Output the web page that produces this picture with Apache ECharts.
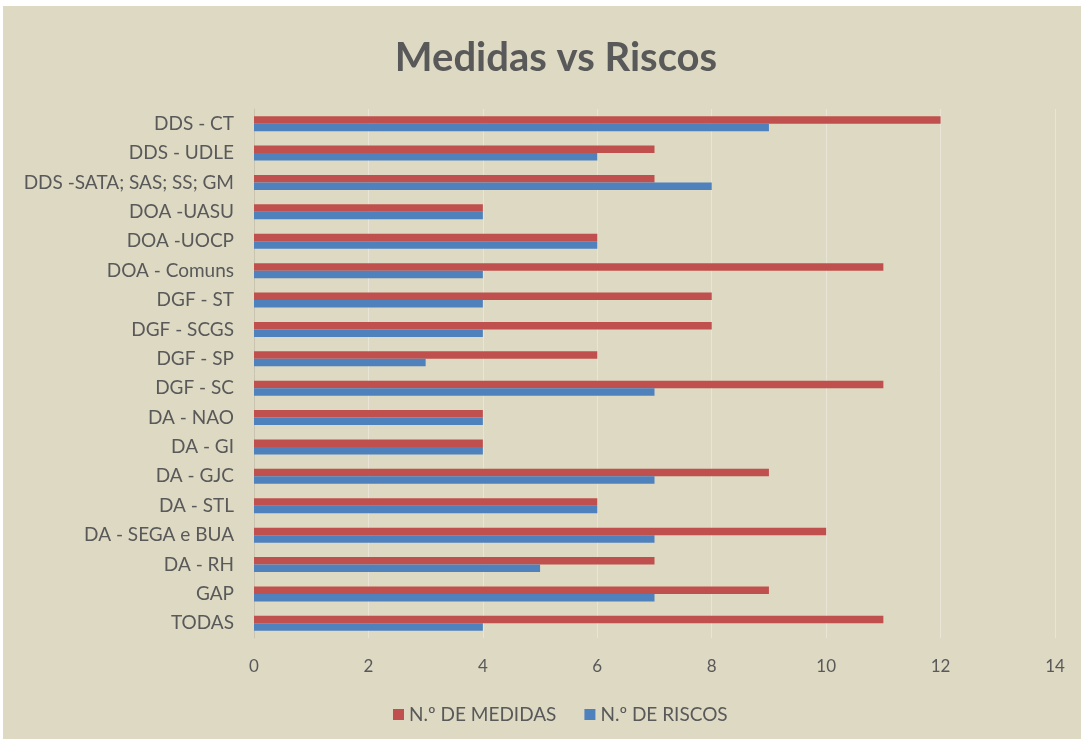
<!DOCTYPE html>
<html>
<head>
<meta charset="utf-8">
<script src="https://cdn.jsdelivr.net/npm/echarts@6/dist/echarts.min.js"></script>
<style>
html,body{margin:0;padding:0;background:#ffffff;}
#frame{position:absolute;left:3px;top:6px;width:1078px;height:733px;background:#DDD9C3;}
#chart{width:1078px;height:733px;}
</style>
</head>
<body>
<div id="frame"><div id="chart"></div></div>
<script>
const categories = ["DDS - CT","DDS - UDLE","DDS -SATA; SAS; SS; GM","DOA -UASU","DOA -UOCP","DOA - Comuns","DGF - ST","DGF - SCGS","DGF - SP","DGF - SC","DA - NAO","DA - GI","DA - GJC","DA - STL","DA - SEGA e BUA","DA - RH","GAP","TODAS"];
const medidas = [12,7,7,4,6,11,8,8,6,11,4,4,9,6,10,7,9,11];
const riscos  = [9,6,8,4,6,4,4,4,3,7,4,4,7,6,7,5,7,4];
const xTicks = [0,2,4,6,8,10,12,14];

const chart = echarts.init(document.getElementById('chart'));
const font = 'Lato, "Open Sans", sans-serif';
chart.setOption({
  backgroundColor: '#DDD9C3',
  animation: false,
  title: {
    text: 'Medidas vs Riscos',
    left: 548,
    textAlign: 'center',
    top: 27,
    textStyle: {fontFamily: font, fontSize: 40, fontWeight: 'bold', color: '#595959'}
  },
  legend: {
    bottom: 10,
    left: 385,
    itemWidth: 11, itemHeight: 11, itemGap: 28,
    icon: 'rect',
    textStyle: {fontFamily: font, fontSize: 19, color: '#595959'},
    data: ['N.º DE MEDIDAS','N.º DE RISCOS']
  },
  grid: {left: 251, right: 26, top: 103, bottom: 101, containLabel: false},
  xAxis: {
    type: 'value', min: xTicks[0], max: xTicks[xTicks.length-1], interval: 2,
    axisLine: {show: false}, axisTick: {show: false},
    splitLine: {show: true, lineStyle: {color: '#E8E5D6', width: 1}},
    axisLabel: {fontFamily: font, fontSize: 17, color: '#595959', margin: 20}
  },
  yAxis: {
    type: 'category', data: categories, inverse: true,
    axisLine: {show: true, lineStyle: {color: '#C8C4B0'}},
    axisTick: {show: false},
    axisLabel: {fontFamily: font, fontSize: 19, color: '#595959', margin: 20}
  },
  series: [
    {name: 'N.º DE MEDIDAS', type: 'bar', data: medidas, barGap: '0%', barCategoryGap: '49%',
     itemStyle: {color: '#C0504D'}},
    {name: 'N.º DE RISCOS', type: 'bar', data: riscos, barGap: '0%', barCategoryGap: '49%',
     itemStyle: {color: '#4F81BD'}}
  ]
});
</script>
</body>
</html>
